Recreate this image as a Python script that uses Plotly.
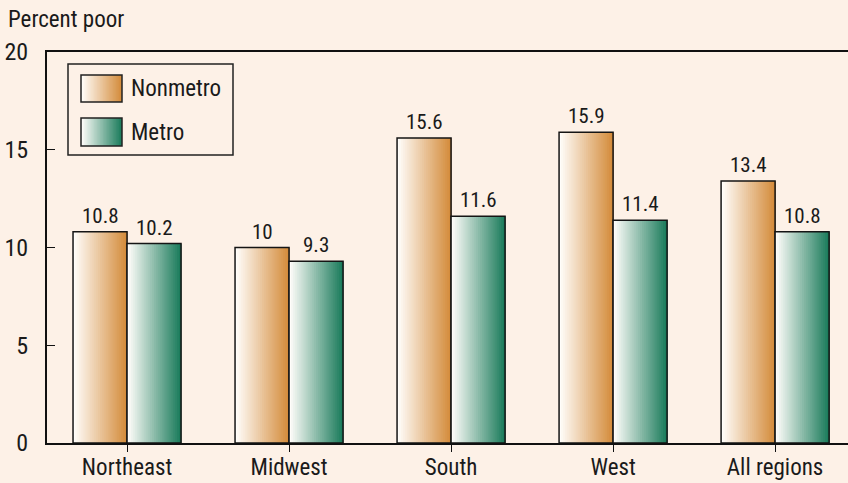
import plotly.graph_objects as go

categories = ["Northeast", "Midwest", "South", "West", "All regions"]
nonmetro = [10.8, 10.0, 15.6, 15.9, 13.4]
metro = [10.2, 9.3, 11.6, 11.4, 10.8]
nonmetro_labels = ["10.8", "10", "15.6", "15.9", "13.4"]
metro_labels = ["10.2", "9.3", "11.6", "11.4", "10.8"]
y_ticks = [0, 5, 10, 15, 20]

FONT = "Liberation Sans Narrow, Arial Narrow, Roboto Condensed, sans-serif"
BG = "#fdf1e7"
TXT = "#1a1a1a"
ORANGE = (212, 140, 60)
GREEN = (28, 124, 92)
WHITE = (255, 253, 250)
N = 28
BW = 1 / 3


def mix(c1, c2, t):
    return "rgb(%d,%d,%d)" % tuple(round(a + (b - a) * t) for a, b in zip(c1, c2))


fig = go.Figure()
series = [(nonmetro, ORANGE, -BW), (metro, GREEN, 0.0)]
for vals, col, off in series:
    for k in range(N):
        t = k / (N - 1)
        fig.add_trace(go.Bar(
            x=categories, y=vals,
            offset=off + k * BW / N, width=BW - k * BW / N,
            marker=dict(color=mix(WHITE, col, t), line=dict(width=0)),
            showlegend=False, hoverinfo="skip"))
    fig.add_trace(go.Bar(
        x=categories, y=vals, offset=off, width=BW,
        marker=dict(color="rgba(0,0,0,0)", line=dict(color="#151515", width=1.5)),
        showlegend=False, hoverinfo="skip"))

annotations = []
for i, (a, b) in enumerate(zip(nonmetro, metro)):
    annotations.append(dict(x=i - BW / 2, y=a, xref="x", yref="y", text=nonmetro_labels[i],
                            showarrow=False, yanchor="bottom", yshift=2,
                            font=dict(family=FONT, size=21, color=TXT)))
    annotations.append(dict(x=i + BW / 2, y=b, xref="x", yref="y", text=metro_labels[i],
                            showarrow=False, yanchor="bottom", yshift=2,
                            font=dict(family=FONT, size=21, color=TXT)))

W, H = 801, 391


def px(x):
    return (x - 47) / W


def py(y):
    return (443 - y) / H


annotations.append(dict(x=px(6), y=py(19), xref="paper", yref="paper",
                        xanchor="left", yanchor="middle", text="Percent poor", showarrow=False,
                        font=dict(family=FONT, size=23, color=TXT)))

# legend (drawn manually to show gradient swatches)
shapes = [dict(type="rect", xref="paper", yref="paper", x0=px(68), x1=px(233), y0=py(155), y1=py(64),
               line=dict(color="#222", width=1.5), fillcolor=BG)]
for (y0, y1, col) in [(75, 102, ORANGE), (118, 146, GREEN)]:
    x0, x1 = 81, 122
    for k in range(N):
        t = k / (N - 1)
        shapes.append(dict(type="rect", xref="paper", yref="paper",
                           x0=px(x0 + (x1 - x0) * k / N), x1=px(x1), y0=py(y1), y1=py(y0),
                           line=dict(width=0), fillcolor=mix(WHITE, col, t)))
    shapes.append(dict(type="rect", xref="paper", yref="paper", x0=px(x0), x1=px(x1),
                       y0=py(y1), y1=py(y0), line=dict(color="#222", width=1.5)))
annotations.append(dict(x=px(129), y=py(89), xref="paper", yref="paper", xanchor="left",
                        yanchor="middle", text="Nonmetro", showarrow=False,
                        font=dict(family=FONT, size=23, color=TXT)))
annotations.append(dict(x=px(129), y=py(132), xref="paper", yref="paper", xanchor="left",
                        yanchor="middle", text="Metro", showarrow=False,
                        font=dict(family=FONT, size=23, color=TXT)))

fig.update_layout(
    width=848, height=483,
    margin=dict(l=47, r=0, t=52, b=40, autoexpand=False),
    paper_bgcolor=BG, plot_bgcolor=BG,
    barmode="overlay",
    showlegend=False,
    annotations=annotations,
    shapes=shapes,
    font=dict(family=FONT, size=23, color=TXT),
)
fig.update_xaxes(
    type="category", range=[-0.494, 4.45],
    showline=True, linecolor="#111", linewidth=2, mirror=True,
    ticks="outside", ticklen=7, tickcolor="#111", tickwidth=1,
    showgrid=False, zeroline=False, automargin=False,
    tickfont=dict(family=FONT, size=23, color=TXT),
    ticklabelstandoff=-5,
)
fig.update_yaxes(
    range=[0, 20], tickvals=y_ticks,
    showline=True, linecolor="#111", linewidth=2,
    ticks="inside", ticklen=8, tickcolor="#111", tickwidth=1,
    showgrid=False, zeroline=False, automargin=False,
    tickfont=dict(family=FONT, size=24, color=TXT),
    ticklabelstandoff=12,
)

fig.write_html("out.html", config={"displayModeBar": False},
               post_script="document.body.style.margin='0';document.body.style.overflow='hidden';")
